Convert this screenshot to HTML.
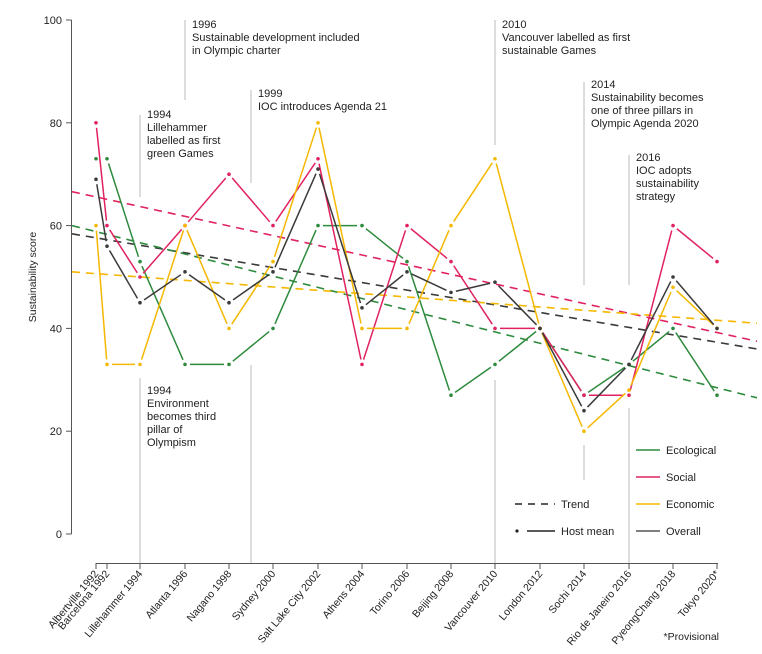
<!DOCTYPE html>
<html><head><meta charset="utf-8"><style>
body{margin:0;background:#fff;}
svg{display:block;font-family:"Liberation Sans",sans-serif;}
</style></head><body>
<svg id="s" width="762" height="654" xmlns="http://www.w3.org/2000/svg">
<g font-size="11" fill="#222">
<!-- annotation lines -->
<g stroke="#bbb" stroke-width="1">
<line x1="140" y1="115" x2="140" y2="197"/><line x1="140" y1="378" x2="140" y2="563"/>
<line x1="185" y1="20" x2="185" y2="100"/><line x1="185" y1="565" x2="185" y2="563"/>
<line x1="251" y1="90" x2="251" y2="183"/><line x1="251" y1="365" x2="251" y2="563"/>
<line x1="495" y1="20" x2="495" y2="145"/><line x1="495" y1="380" x2="495" y2="563"/>
<line x1="584" y1="82" x2="584" y2="285"/><line x1="584" y1="445" x2="584" y2="480"/>
<line x1="629" y1="155" x2="629" y2="285"/><line x1="629" y1="408" x2="629" y2="563"/>
</g>
<text x="147" y="118">1994</text><text x="147" y="131">Lillehammer</text><text x="147" y="144">labelled as first</text><text x="147" y="157">green Games</text>
<text x="147" y="394">1994</text><text x="147" y="407">Environment</text><text x="147" y="420">becomes third</text><text x="147" y="433">pillar of</text><text x="147" y="446">Olympism</text>
<text x="192" y="28">1996</text><text x="192" y="41">Sustainable development included</text><text x="192" y="54">in Olympic charter</text>
<text x="258" y="97">1999</text><text x="258" y="110">IOC introduces Agenda 21</text>
<text x="502" y="28">2010</text><text x="502" y="41">Vancouver labelled as first</text><text x="502" y="54">sustainable Games</text>
<text x="591" y="88">2014</text><text x="591" y="101">Sustainability becomes</text><text x="591" y="114">one of three pillars in</text><text x="591" y="127">Olympic Agenda 2020</text>
<text x="636" y="161">2016</text><text x="636" y="174">IOC adopts</text><text x="636" y="187">sustainability</text><text x="636" y="200">strategy</text>
<!-- axes -->
<g stroke="#555" stroke-width="1">
<line x1="71.5" y1="20" x2="71.5" y2="534"/>
<line x1="96" y1="563.5" x2="718" y2="563.5"/>
</g>
<g id="yt"></g>
<g id="xt"></g>
<text transform="translate(36,277) rotate(-90)" text-anchor="middle" font-size="10.5">Sustainability score</text>
<text x="719" y="640" text-anchor="end" font-size="10.5">*Provisional</text>
<g id="plot"></g>
<!-- legend -->
<line x1="636" y1="450" x2="660" y2="450" stroke="#2e8b3e" stroke-width="1.6"/><text x="666" y="454">Ecological</text>
<line x1="636" y1="477" x2="660" y2="477" stroke="#e0235f" stroke-width="1.6"/><text x="666" y="481">Social</text>
<line x1="636" y1="504" x2="660" y2="504" stroke="#f5b800" stroke-width="1.6"/><text x="666" y="508">Economic</text>
<line x1="636" y1="531" x2="660" y2="531" stroke="#555" stroke-width="1.6"/><text x="666" y="535">Overall</text>
<line x1="515" y1="504" x2="555" y2="504" stroke="#222" stroke-width="1.6" stroke-dasharray="7,6"/><text x="561" y="508">Trend</text>
<circle cx="517" cy="531" r="1.6" fill="#222"/><line x1="527" y1="531" x2="555" y2="531" stroke="#222" stroke-width="1.6"/><text x="561" y="535">Host mean</text>
</g>
</svg>
<script>
var NS="http://www.w3.org/2000/svg";
function el(p,t,a,txt){var e=document.createElementNS(NS,t);for(var k in a)e.setAttribute(k,a[k]);if(txt)e.textContent=txt;p.appendChild(e);return e;}
function Y(v){return 534-v*5.14;}
var yt=document.getElementById("yt");
for(var v=0;v<=100;v+=20){el(yt,"line",{x1:66,x2:71.5,y1:Y(v),y2:Y(v),stroke:"#555"});el(yt,"text",{x:62,y:Y(v)+4,"text-anchor":"end"},String(v));}
var names=["Albertville 1992","Barcelona 1992","Lillehammer 1994","Atlanta 1996","Nagano 1998","Sydney 2000","Salt Lake City 2002","Athens 2004","Torino 2006","Beijing 2008","Vancouver 2010","London 2012","Sochi 2014","Rio de Janeiro 2016","PyeongChang 2018","Tokyo 2020*"];
var xs=[96,107,140,185,229,273,318,362,407,451,495,540,584,629,673,717];
var xt=document.getElementById("xt");
for(var i=0;i<16;i++){el(xt,"line",{x1:xs[i],x2:xs[i],y1:563,y2:569,stroke:"#555"});
el(xt,"text",{transform:"translate("+(xs[i]+3)+",574) rotate(-50)","text-anchor":"end","font-size":"10.5"},names[i]);}
var plot=document.getElementById("plot");
// trends
var tr=[["#e0235f",66.6,37.5],["#3a3a3a",58.4,36],["#2e8b3e",60,26.5],["#f5b800",51,41]];
tr.forEach(function(t){el(plot,"line",{x1:72,y1:Y(t[1]),x2:757,y2:Y(t[2]),stroke:t[0],"stroke-width":1.6,"stroke-dasharray":"8,6"});});
var S=[
["#2e8b3e",[73,73,53,33,33,40,60,60,53,27,33,40,27,33,40,27]],
["#e0235f",[80,60,50,60,70,60,73,33,60,53,40,40,27,27,60,53]],
["#f5b800",[60,33,33,60,40,53,80,40,40,60,73,40,20,28,48,40]],
["#3a3a3a",[69,56,45,51,45,51,71,44,51,47,49,40,24,33,50,40]]
];
S.forEach(function(s){var c=s[0],d=s[1];
for(var i=0;i<15;i++){var x1=xs[i],y1=Y(d[i]),x2=xs[i+1],y2=Y(d[i+1]);var dx=x2-x1,dy=y2-y1,L=Math.sqrt(dx*dx+dy*dy);if(L<12)continue;var g=5/L;
el(plot,"line",{x1:x1+dx*g,y1:y1+dy*g,x2:x2-dx*g,y2:y2-dy*g,stroke:c,"stroke-width":1.5});}
for(var i=0;i<16;i++)el(plot,"circle",{cx:xs[i],cy:Y(d[i]),r:1.8,fill:c});
});
</script>
</body></html>
